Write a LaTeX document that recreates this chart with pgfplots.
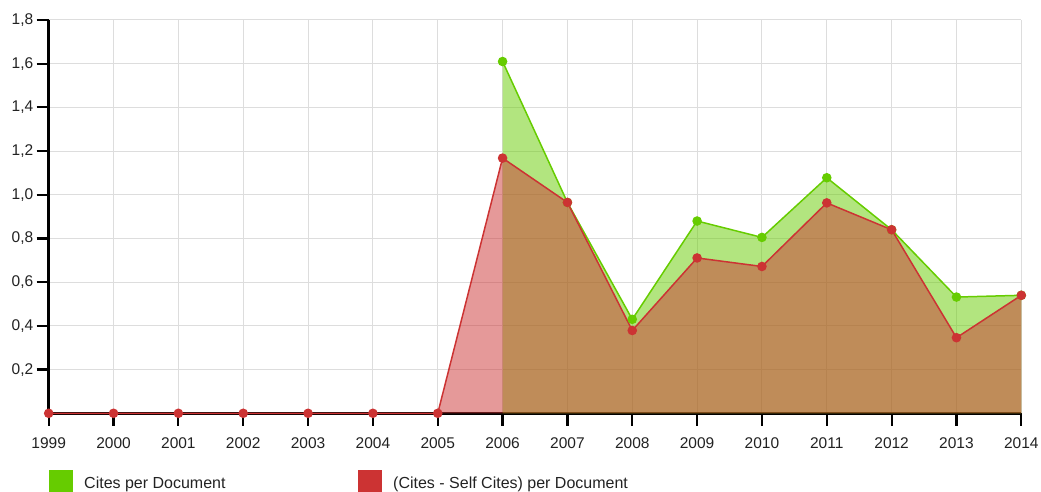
\documentclass[border=0pt]{standalone}
\usepackage{fontspec}
\setmainfont{Liberation Sans}
\usepackage{pgfplots}
\pgfplotsset{compat=1.18}
\definecolor{cgreen}{HTML}{66CC00}
\definecolor{cred}{HTML}{CC3333}
\definecolor{cgrid}{HTML}{DDDDDD}
\definecolor{ctext}{HTML}{222222}

\pgfplotstableread{
year val
2006 1.61
2007 0.965
2008 0.43
2009 0.88
2010 0.805
2011 1.078
2012 0.84
2013 0.532
2014 0.54
}\greendata

\pgfplotstableread{
year val
1999 0
2000 0
2001 0
2002 0
2003 0
2004 0
2005 0
2006 1.168
2007 0.965
2008 0.379
2009 0.711
2010 0.672
2011 0.963
2012 0.84
2013 0.346
2014 0.54
}\reddata

\begin{document}
\begin{tikzpicture}[x=1pt,y=1pt]
\useasboundingbox (-48.7,-78.7) rectangle (992.3,413.3);
\foreach \i in {0,...,15} {
  \draw[black, line width=2.2pt] (\i*64.84,-1) -- (\i*64.84,-13);
}
\foreach \j in {1,...,9} {
  \draw[black, line width=2.2pt] (1,\j*43.7) -- (-12,\j*43.7);
}
\begin{axis}[
  at={(0,0)}, anchor=south west,
  scale only axis, width=972.6pt, height=393.3pt,
  xmin=1999, xmax=2014, ymin=0, ymax=1.8,
  xtick={1999,2000,2001,2002,2003,2004,2005,2006,2007,2008,2009,2010,2011,2012,2013,2014},
  ytick={0.2,0.4,0.6,0.8,1.0,1.2,1.4,1.6,1.8},
  grid=major, major grid style={cgrid, line width=1pt},
  axis x line*=bottom, axis y line*=left,
  axis line style={black, line width=3pt, -},
  major tick style={draw=black, line width=2.2pt},
  tick align=outside, major tick length=12pt,
  /pgf/number format/assume math mode=true,
  ticklabel style={font=\fontsize{15.5}{16}\selectfont, text=ctext},
  xticklabel style={/pgf/number format/1000 sep={}, yshift=-9pt},
  yticklabel style={/pgf/number format/.cd, fixed, fixed zerofill, precision=1, use comma},
  clip=false,
]
\addplot[draw=none, fill=cgreen, fill opacity=0.5] table[x=year,y=val]{\greendata} \closedcycle;
\addplot[cgreen, line width=1.5pt, mark=*, mark size=4pt, mark options={fill=cgreen, draw=cgreen}] table[x=year,y=val]{\greendata};
\addplot[draw=none, fill=cred, fill opacity=0.5] table[x=year,y=val]{\reddata} \closedcycle;
\addplot[cred, line width=1.5pt, mark=*, mark size=4pt, mark options={fill=cred, draw=cred}] table[x=year,y=val]{\reddata};
\end{axis}
\fill[cgreen] (0,-56.7) rectangle (24,-80.7);
\node[anchor=base west, inner sep=0pt, font=\fontsize{16}{16}\selectfont, text=ctext] at (35.3,-75.2) {Cites per Document};
\fill[cred] (308.8,-56.7) rectangle (333.3,-80.7);
\node[anchor=base west, inner sep=0pt, font=\fontsize{16}{16}\selectfont, text=ctext] at (344.3,-75.2) {(Cites - Self Cites) per Document};
\end{tikzpicture}
\end{document}
